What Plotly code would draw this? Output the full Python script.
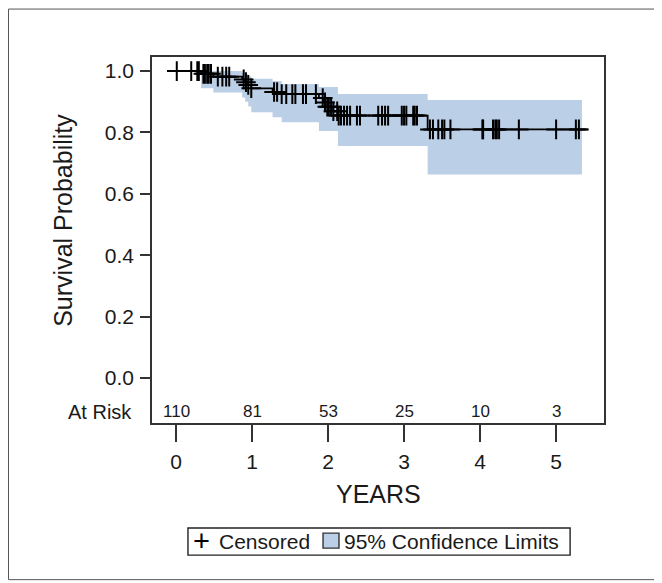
import plotly.graph_objects as go

# Kaplan-Meier step curve (event times in years, survival after each time)
event_times = [0.0, 0.33, 0.49, 0.87, 0.91, 0.95, 0.99, 1.27, 1.39, 1.88, 1.94, 1.99, 2.05, 2.13, 3.31]
survival    = [1.0, 0.991, 0.982, 0.973, 0.964, 0.955, 0.944, 0.932, 0.925, 0.912, 0.898, 0.884, 0.869, 0.855, 0.810]
ci_lower    = [1.0, 0.944, 0.930, 0.914, 0.900, 0.885, 0.866, 0.850, 0.833, 0.805, 0.805, 0.805, 0.805, 0.756, 0.663]
ci_upper    = [1.0, 1.000, 1.000, 0.995, 0.990, 0.983, 0.975, 0.968, 0.958, 0.948, 0.948, 0.948, 0.948, 0.925, 0.906]
curve_end = 5.42
band_end = 5.34

censor_times = [0.01, 0.20, 0.28, 0.30, 0.36, 0.38, 0.41, 0.43, 0.46, 0.55, 0.61, 0.66, 0.70,
                0.89, 0.92, 0.95, 0.99, 1.29, 1.33, 1.39, 1.45, 1.53, 1.57, 1.67, 1.71, 1.84,
                1.93, 1.96, 1.99, 2.01, 2.04, 2.07, 2.12, 2.14, 2.17, 2.21, 2.25, 2.29, 2.38, 2.42,
                2.66, 2.71, 2.75, 2.79, 2.97, 3.00, 3.03, 3.12, 3.14, 3.17,
                3.34, 3.38, 3.45, 3.50, 3.53, 3.61, 4.03, 4.04, 4.17, 4.20, 4.22, 4.25,
                4.51, 5.00, 5.26, 5.30]

risk_times = [0, 1, 2, 3, 4, 5]
at_risk = [110, 81, 53, 25, 10, 3]

y_ticks = [0.0, 0.2, 0.4, 0.6, 0.8, 1.0]
x_ticks = [0, 1, 2, 3, 4, 5]

legend_labels = ["Censored", "95% Confidence Limits"]

band_color = "#BBCFE6"
font_family = "Liberation Sans, Arial, sans-serif"
text_color = "#1a1a1a"


def surv_at(t):
    s = survival[0]
    for et, sv in zip(event_times, survival):
        if et <= t:
            s = sv
    return s


# band polygon (step)
bx, bu, bl = [], [], []
for i, t in enumerate(event_times):
    if ci_lower[i] == 1.0 and ci_upper[i] == 1.0:
        continue
    t_next = event_times[i + 1] if i + 1 < len(event_times) else band_end
    bx += [t, t_next]
    bu += [ci_upper[i], ci_upper[i]]
    bl += [ci_lower[i], ci_lower[i]]
poly_x = bx + bx[::-1]
poly_y = bu + bl[::-1]

fig = go.Figure()
fig.add_trace(go.Scatter(x=poly_x, y=poly_y, fill="toself", fillcolor=band_color,
                         line=dict(width=0), mode="lines", name=legend_labels[1],
                         showlegend=False, hoverinfo="skip"))
fig.add_trace(go.Scatter(x=event_times + [curve_end], y=survival + [survival[-1]],
                         mode="lines", line=dict(color="black", width=1.8, shape="hv"),
                         showlegend=False))
fig.add_trace(go.Scatter(x=censor_times, y=[surv_at(t) for t in censor_times], mode="markers",
                         marker=dict(symbol="cross-thin", size=14, line=dict(color="black", width=2)),
                         name=legend_labels[0], showlegend=False))

for t, n in zip(risk_times, at_risk):
    fig.add_annotation(x=t, y=-0.111, xref="x", yref="y", text=str(n), showarrow=False,
                       xanchor="center", font=dict(size=17, color=text_color))
fig.add_annotation(x=-0.040, y=-0.111, xref="paper", yref="y", text="At Risk", showarrow=False,
                   xanchor="right", font=dict(size=20, color=text_color))
fig.add_annotation(x=0.502, y=-0.194, xref="paper", yref="paper", text="YEARS", showarrow=False,
                   xanchor="center", yanchor="middle", font=dict(size=25, color=text_color))
fig.add_annotation(x=-0.197, y=0.555, xref="paper", yref="paper", text="Survival Probability",
                   textangle=-90, showarrow=False, xanchor="center", yanchor="middle",
                   font=dict(size=25, color=text_color))

# outer frame
fig.add_shape(type="rect", xref="paper", yref="paper", x0=-0.3175, x1=1.1195, y0=-0.428, y1=1.131,
              line=dict(color="#555", width=1))

# legend box (drawn manually for a tight frame)
ly = -0.3235
fig.add_shape(type="rect", xref="paper", yref="paper", x0=0.0796, x1=0.925, y0=-0.361, y1=-0.287,
              line=dict(color="#222", width=1.4), fillcolor="white")
fig.add_annotation(x=0.1106, y=ly, xref="paper", yref="paper", text="+", showarrow=False,
                   xanchor="center", yanchor="middle", font=dict(size=29, color="black"))
fig.add_annotation(x=0.1436, y=ly, xref="paper", yref="paper", text=legend_labels[0], showarrow=False,
                   xanchor="left", yanchor="middle", font=dict(size=21, color=text_color))
fig.add_shape(type="rect", xref="paper", yref="paper", x0=0.3784, x1=0.4137, y0=-0.342, y1=-0.301,
              line=dict(color="#333", width=1.4), fillcolor=band_color)
fig.add_annotation(x=0.4203, y=ly, xref="paper", yref="paper", text=legend_labels[1], showarrow=False,
                   xanchor="left", yanchor="middle", font=dict(size=21, color=text_color))

fig.update_layout(
    width=654, height=575,
    margin=dict(l=144, r=58, t=49, b=160),
    paper_bgcolor="white", plot_bgcolor="white",
    font=dict(family=font_family, color=text_color),
    showlegend=False,
)
fig.update_xaxes(range=[-0.316, 5.63], tickvals=x_ticks, ticks="outside", ticklen=17,
                 tickwidth=1.6, tickcolor="#333", showline=True, linecolor="#333", linewidth=1.6,
                 mirror=True, showgrid=False, zeroline=False, tickfont=dict(size=21),
                 ticklabelstandoff=2)
fig.update_yaxes(range=[-0.147, 1.046], tickvals=y_ticks, tickformat=".1f", ticks="outside",
                 ticklen=10, tickwidth=1.6, tickcolor="#333", showline=True, linecolor="#333",
                 linewidth=1.6, mirror=True, showgrid=False, zeroline=False,
                 tickfont=dict(size=21), ticklabelstandoff=2)

fig.write_html("out.html")
